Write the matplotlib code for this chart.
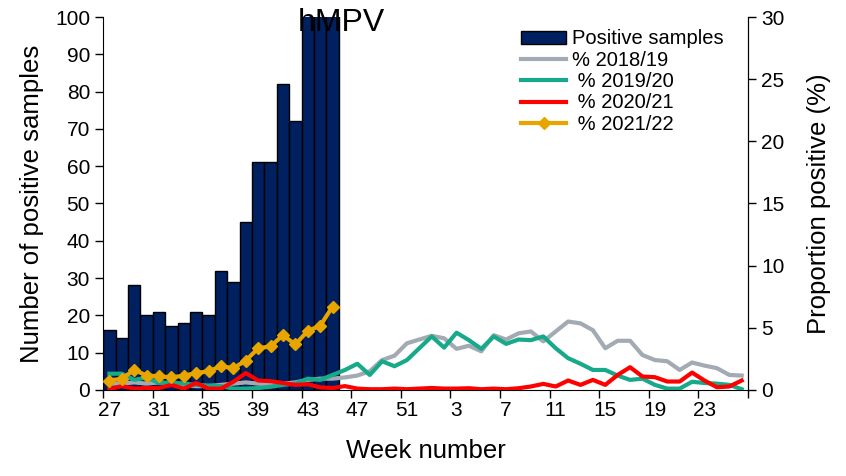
import numpy as np
import matplotlib.pyplot as plt

plt.rcParams['font.family'] = ['Liberation Sans', 'DejaVu Sans']

# Week axis: 27..52 then 1..26
weeks = list(range(27, 53)) + list(range(1, 27))

# Positive samples 2021/22 (last three bars run off the top of the axis)
pos_samples = [16, 14, 28, 20, 21, 17, 18, 21, 20, 32, 29, 45, 61, 61, 82, 72, 110, 120, 130]

# Proportion positive (%) by season
pct_1819 = [0.5, 0.5, 0.6, 0.5, 0.6, 0.5, 0.4, 0.3, 0.3, 0.4, 0.5, 0.6, 0.5, 0.4, 0.5, 0.6,
            0.8, 0.9, 0.9, 1.0, 1.15, 1.5, 2.4, 2.75, 3.75, 4.05, 4.35, 4.15, 3.3, 3.55,
            3.1, 4.4, 4.05, 4.55, 4.7, 3.9, 4.7, 5.5, 5.35, 4.8, 3.35, 3.95, 3.95, 2.8,
            2.4, 2.3, 1.6, 2.2, 1.95, 1.75, 1.2, 1.15]
pct_1920 = [1.3, 1.3, 0.8, 1.0, 0.55, 0.6, 0.5, 0.4, 0.35, 0.3, 0.1, 0.1, 0.15, 0.25, 0.4, 0.5,
            0.9, 0.8, 1.2, 1.6, 2.1, 1.2, 2.3, 1.9, 2.4, 3.35, 4.3, 3.4, 4.6, 4.0,
            3.3, 4.3, 3.7, 4.05, 4.0, 4.3, 3.35, 2.55, 2.1, 1.6, 1.6, 1.15, 0.8, 0.9,
            0.4, 0.1, 0.1, 0.65, 0.55, 0.5, 0.4, 0.05]
pct_2021 = [0.05, 0.3, 0.1, 0.15, 0.15, 0.4, 0.1, 0.55, 0.1, 0.1, 0.65, 1.35, 0.75, 0.7, 0.55, 0.4,
            0.45, 0.2, 0.15, 0.3, 0.1, 0.05, 0.05, 0.1, 0.05, 0.1, 0.15, 0.1, 0.1, 0.13,
            0.05, 0.1, 0.05, 0.13, 0.27, 0.48, 0.27, 0.75, 0.4, 0.8, 0.4, 1.2, 1.82, 1.07,
            1.02, 0.67, 0.67, 1.39, 0.75, 0.21, 0.27, 0.75]
pct_2122 = [0.75, 0.9, 1.6, 1.15, 1.1, 1.0, 1.15, 1.35, 1.5, 1.9, 1.75, 2.35, 3.35, 3.5, 4.4,
            3.65, 4.75, 5.15, 6.7]

x = np.arange(len(weeks))

fig = plt.figure(figsize=(8.46, 4.76), dpi=100)
ax = fig.add_axes([0.122, 0.181, 0.762, 0.783])
ax2 = ax.twinx()

bars = ax.bar(x[:len(pos_samples)], pos_samples, width=1.0, color='#002060',
              edgecolor='black', linewidth=1.0, label='Positive samples')
ax.set_ylim(0, 100)
ax.set_xlim(-0.5, len(weeks) - 0.5)
ax.set_yticks(np.arange(0, 101, 10))

l1, = ax2.plot(x, pct_1819, color='#A3AAB3', lw=3.0, label='% 2018/19')
l2, = ax2.plot(x, pct_1920, color='#16A98A', lw=3.0, label=' % 2019/20')
l3, = ax2.plot(x, pct_2021, color='#FF0000', lw=3.0, label=' % 2020/21')
l4, = ax2.plot(x[:len(pct_2122)], pct_2122, color='#E8A500', lw=3.0, marker='D',
               markersize=6, label=' % 2021/22')
ax2.set_ylim(0, 30)
ax2.set_yticks(np.arange(0, 31, 5))

# tick marks between categories, labels at category centres
ax.set_xticks(np.arange(-0.5, len(weeks), 4))
ax.set_xticklabels([])
ax.set_xticks(x[::4], minor=True)
ax.set_xticklabels([str(w) for w in weeks[::4]], minor=True)
ax.tick_params(axis='x', which='minor', length=0, labelsize=15, pad=8)
ax.tick_params(axis='x', which='major', length=6, width=1)
ax.tick_params(axis='y', labelsize=15, length=6, width=1)
ax2.tick_params(axis='y', labelsize=15, length=6, width=1)

for a in (ax, ax2):
    a.spines['top'].set_visible(False)
ax2.spines['left'].set_visible(False)
ax2.spines['bottom'].set_visible(False)

ax.set_xlabel('Week number', fontsize=18.5, labelpad=14)
ax.set_ylabel('Number of positive samples', fontsize=18.5, labelpad=8)
ax2.set_ylabel('Proportion positive (%)', fontsize=18.5, labelpad=16)

fig.text(341 / 846, 1 - 8 / 476, 'hMPV', fontsize=23, ha='center', va='top')

leg = ax2.legend([bars, l1, l2, l3, l4],
                 ['Positive samples', '% 2018/19', ' % 2019/20', ' % 2020/21', ' % 2021/22'],
                 loc='upper left', bbox_to_anchor=(0.63, 1.0), frameon=False,
                 fontsize=14.5, handlelength=2.2, handleheight=0.6, handletextpad=0.3,
                 labelspacing=0.12, borderaxespad=0.2)

fig.savefig('out.png', dpi=100)
